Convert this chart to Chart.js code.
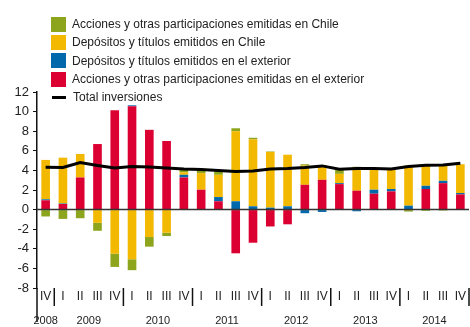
<!DOCTYPE html>
<html>
<head>
<meta charset="utf-8">
<script src="https://cdn.jsdelivr.net/npm/chart.js@4.4.0/dist/chart.umd.min.js"></script>
<style>
  body { margin: 0; background: #fff; }
  #wrap { position: relative; width: 470px; height: 327px; }
  #legend { position: absolute; left: 51px; top: 15px; font: 12px "Liberation Sans", Arial, sans-serif; color: #222; }
  #legend div { height: 18.3px; line-height: 18.3px; display: flex; align-items: center; }
  #legend span.sw { display: inline-block; width: 15px; height: 15px; margin-right: 6px; }
  #legend span.ln { display: inline-block; width: 14px; height: 3px; margin: 0 7px 0 1px; background: #000; }
</style>
</head>
<body>
<div id="wrap">
  <canvas id="inv-plot" width="470" height="327"></canvas>
  <div id="legend"></div>
</div>
<script>
// Quarterly labels and year groups
const quarters = ['IV','I','II','III','IV','I','II','III','IV','I','II','III','IV',
                  'I','II','III','IV','I','II','III','IV','I','II','III','IV'];
const years = ['2008','2009','2010','2011','2012','2013','2014'];
const yearSpan = [1,4,4,4,4,4,4];

// Series (% of GDP)
const accionesExt = [0.95,0.57,3.28,6.69,10.14,10.54,8.14,7.0,3.28,2.03,0.85,-4.46,-3.38,
                     -1.72,-1.5,2.53,3.04,2.6,1.93,1.62,1.86,0,2.1,2.7,1.55];
const depositosExt = [0.1,0.05,0,0,0,0.1,0,0,0.27,0,0.43,0.85,0.34,
                      0.2,0.34,-0.37,-0.24,0.1,-0.17,0.41,0.24,0.4,0.33,0.24,0.14];
const depositosChile = [4.02,4.68,2.4,-1.35,-4.5,-5.07,-2.8,-2.36,0.25,1.69,2.27,7.15,6.82,
                        5.68,5.26,1.97,1.46,0.95,2.39,2.09,2.02,4.1,2.13,1.59,2.94];
const accionesChile = [-0.7,-0.95,-0.88,-0.81,-1.35,-1.11,-0.98,-0.34,0.3,0.33,0.35,0.3,0.17,
                       0.05,0,0.13,0.05,0.47,0.05,0,0,-0.2,-0.13,-0.1,0];
const totalInv = [4.32,4.3,4.8,4.5,4.25,4.4,4.35,4.25,4.15,4.1,4.0,3.9,3.95,
                  4.15,4.2,4.3,4.46,4.12,4.2,4.2,4.15,4.4,4.53,4.55,4.73];
const yTicks = [12,10,8,6,4,2,0,-2,-4,-6,-8];

const GREEN = '#8ca51c', YELLOW = '#f3b800', BLUE = '#0068ab', RED = '#dc0032';
const FONT = '"Liberation Sans", Arial, sans-serif';

// zero line on top of bars, year separators and year labels under the axis
const extras = {
  id: 'extras',
  afterDatasetsDraw(chart) {
    const {ctx, chartArea, scales: {x, y}} = chart;
    const y0 = y.getPixelForValue(0);
    ctx.save();
    ctx.strokeStyle = '#333';
    ctx.lineWidth = 1.5;
    ctx.beginPath();
    ctx.moveTo(chartArea.left, y0);
    ctx.lineTo(chartArea.right, y0);
    ctx.stroke();
    ctx.restore();
  },
  afterDraw(chart) {
    const {ctx, chartArea, scales: {x}} = chart;
    const step = x.getPixelForValue(1) - x.getPixelForValue(0);
    ctx.save();
    ctx.strokeStyle = '#111';
    ctx.lineWidth = 1.5;
    // left axis runs down through the label rows
    ctx.beginPath();
    ctx.moveTo(chartArea.left, chartArea.bottom);
    ctx.lineTo(chartArea.left, chartArea.bottom + 34);
    ctx.stroke();
    ctx.fillStyle = '#222';
    ctx.font = '11px ' + FONT;
    ctx.textAlign = 'center';
    ctx.textBaseline = 'middle';
    let idx = 0;
    years.forEach((yr, i) => {
      const start = x.getPixelForValue(idx) - step / 2;
      idx += yearSpan[i];
      const end = x.getPixelForValue(idx - 1) + step / 2;
      ctx.beginPath();
      ctx.moveTo(end, chartArea.bottom);
      ctx.lineTo(end, chartArea.bottom + 18);
      ctx.stroke();
      ctx.fillText(yr, (start + end) / 2, chartArea.bottom + 33);
    });
    ctx.restore();
  }
};

const chart = new Chart('inv-plot', {
  type: 'bar',
  data: {
    labels: quarters,
    datasets: [
      { type: 'line', label: 'Total inversiones', data: totalInv, borderColor: '#000',
        borderWidth: 3, pointRadius: 0, tension: 0, order: 0 },
      { label: 'Acciones y otras participaciones emitidas en el exterior', data: accionesExt,
        backgroundColor: RED, order: 1 },
      { label: 'Depósitos y títulos emitidos en el exterior', data: depositosExt,
        backgroundColor: BLUE, order: 1 },
      { label: 'Depósitos y títulos emitidos en Chile', data: depositosChile,
        backgroundColor: YELLOW, order: 1 },
      { label: 'Acciones y otras participaciones emitidas en Chile', data: accionesChile,
        backgroundColor: GREEN, order: 1 }
    ]
  },
  options: {
    responsive: false,
    animation: false,
    datasets: { bar: { barPercentage: 0.5, categoryPercentage: 1 } },
    layout: { padding: { top: 92, right: 1, left: 0, bottom: 0 } },
    plugins: { legend: { display: false }, tooltip: { enabled: false } },
    scales: {
      x: {
        stacked: true,
        grid: { display: false },
        border: { display: false },
        ticks: { color: '#222', font: { family: FONT, size: 12 }, padding: -7,
                 maxRotation: 0, autoSkip: false },
        afterFit(s) { s.height = 39; }
      },
      y: {
        stacked: true,
        min: -8, max: 12,
        afterBuildTicks(s) { s.ticks = yTicks.map(v => ({ value: v })); },
        afterFit(s) { s.width = 37; },
        grid: { drawOnChartArea: false, tickLength: 4, tickColor: '#111' },
        border: { display: true, color: '#111', width: 1.5 },
        ticks: { color: '#222', font: { family: FONT, size: 13 }, padding: 4 }
      }
    }
  },
  plugins: [extras]
});

// legend in the same order as the printed key
const legendEl = document.getElementById('legend');
[4, 3, 2, 1, 0].forEach(i => {
  const ds = chart.data.datasets[i];
  const row = document.createElement('div');
  const mark = document.createElement('span');
  if (ds.type === 'line') {
    mark.className = 'ln';
  } else {
    mark.className = 'sw';
    mark.style.background = ds.backgroundColor;
  }
  row.appendChild(mark);
  row.appendChild(document.createTextNode(ds.label));
  legendEl.appendChild(row);
});
</script>
</body>
</html>
